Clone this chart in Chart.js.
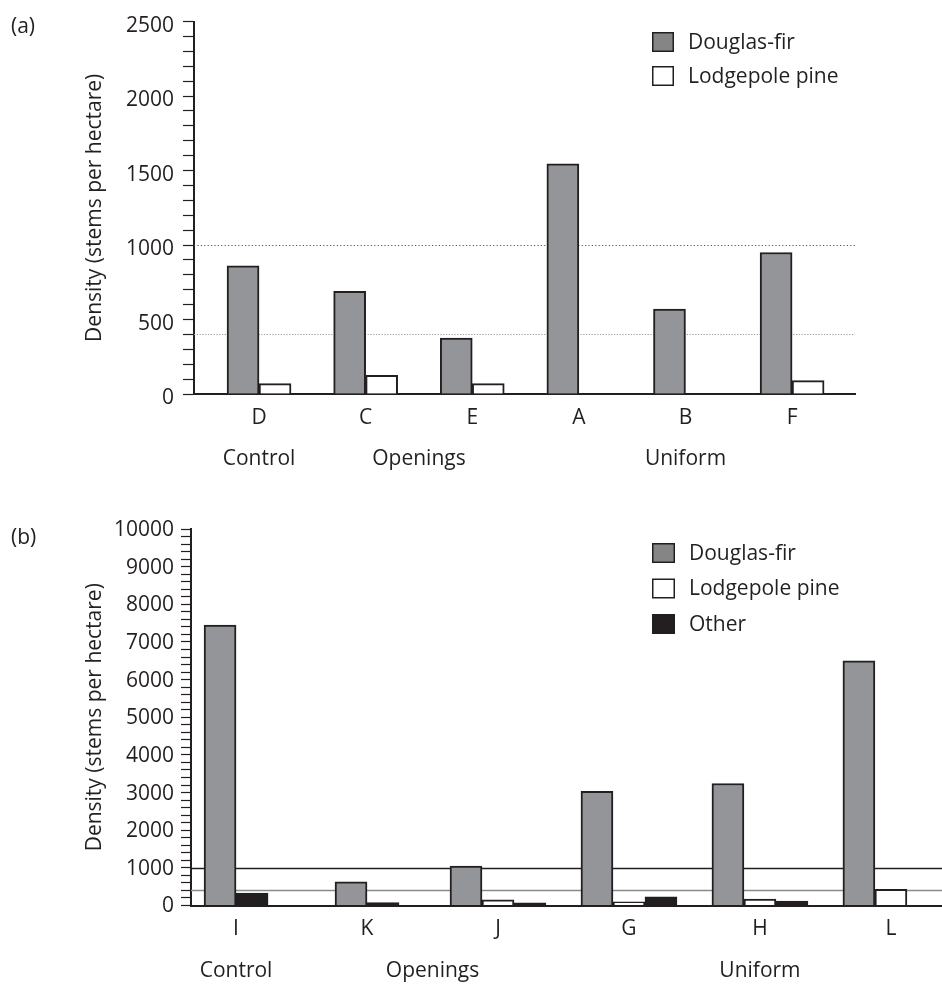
<!DOCTYPE html>
<html>
<head>
<meta charset="utf-8">
<script src="https://cdn.jsdelivr.net/npm/chart.js@4/dist/chart.umd.min.js"></script>
<style>
  html, body { margin: 0; padding: 0; background: #ffffff; }
  body { width: 942px; height: 986px; position: relative; overflow: hidden; }
  .panel { position: absolute; left: 0; width: 942px; }
  #wrapA { top: 0; height: 470px; }
  #wrapB { top: 470px; height: 516px; }
</style>
</head>
<body>
<div class="panel" id="wrapA"><canvas id="chartA" width="942" height="470"></canvas></div>
<div class="panel" id="wrapB"><canvas id="chartB" width="942" height="516"></canvas></div>
<script>
// ---- Panel (a): stem density by site ----
const sitesA = ['D', 'C', 'E', 'A', 'B', 'F'];
const douglasFirA = [860, 690, 375, 1545, 570, 950];
const lodgepoleA = [70, 125, 70, 0, 0, 90];
const yMajorTicksA = [0, 500, 1000, 1500, 2000, 2500];
const yMinorStepA = 100;
const thresholdsA = [1000, 400];
const treatmentSitesA = [['D'], ['C', 'E'], ['A', 'B', 'F']];

// ---- Panel (b): stem density by site ----
const sitesB = ['I', 'K', 'J', 'G', 'H', 'L'];
const douglasFirB = [7450, 630, 1050, 3030, 3240, 6500];
const lodgepoleB = [null, null, 150, 100, 170, 430];
const otherB = [330, 75, 70, 230, 120, 0];
const yMajorTicksB = [0, 1000, 2000, 3000, 4000, 5000, 6000, 7000, 8000, 9000, 10000];
const yMinorStepB = 200;
const thresholdsB = [1000, 400];
const treatmentSitesB = [['I'], ['K', 'J'], ['G', 'H', 'L']];

const treatments = ['Control', 'Openings', 'Uniform'];
const yTitle = 'Density (stems per hectare)';

const INK = '#231f20';
const GREY = '#939598';
const FONT_FAMILY = "'Open Sans', 'Noto Sans', sans-serif";
const FONT_SIZE = 21;

Chart.defaults.font.family = FONT_FAMILY;
Chart.defaults.font.size = FONT_SIZE;
Chart.defaults.color = INK;

const toPoints = (arr) => arr.map((v, i) => ({ x: i, y: v }));

// horizontal reference lines behind the bars
const refLinePlugin = {
  id: 'refLines',
  beforeDatasetsDraw(chart, args, opts) {
    const { ctx, chartArea } = chart;
    const y = chart.scales.y;
    (opts.lines || []).forEach((l) => {
      const py = Math.round(y.getPixelForValue(l.value)) + 0.5;
      ctx.save();
      ctx.strokeStyle = l.color;
      ctx.lineWidth = l.width;
      ctx.setLineDash(l.dash || []);
      ctx.beginPath();
      ctx.moveTo(chartArea.left, py);
      ctx.lineTo(chartArea.right, py);
      ctx.stroke();
      ctx.restore();
    });
  }
};

// square-swatch legend stacked vertically
const boxLegendPlugin = {
  id: 'boxLegend',
  afterDraw(chart, args, opts) {
    const { ctx } = chart;
    ctx.save();
    ctx.font = FONT_SIZE + 'px ' + FONT_FAMILY;
    ctx.textBaseline = 'middle';
    ctx.textAlign = 'left';
    chart.data.datasets.forEach((ds, i) => {
      const cy = opts.top + i * opts.rowGap;
      const x0 = opts.left, y0 = cy - opts.boxH / 2;
      ctx.fillStyle = (opts.swatch && opts.swatch[i]) || ds.backgroundColor;
      ctx.fillRect(x0, y0, opts.boxW, opts.boxH);
      ctx.strokeStyle = INK;
      ctx.lineWidth = 1.5;
      ctx.strokeRect(x0 + 0.75, y0 + 0.75, opts.boxW - 1.5, opts.boxH - 1.5);
      ctx.fillStyle = INK;
      ctx.fillText(ds.label, x0 + opts.boxW + opts.gap, cy + 1);
    });
    ctx.restore();
  }
};

// treatment names under the site letters, plus the panel tag
const treatmentPlugin = {
  id: 'treatments',
  afterDraw(chart, args, opts) {
    const { ctx, chartArea } = chart;
    const x = chart.scales.x;
    ctx.save();
    ctx.font = FONT_SIZE + 'px ' + FONT_FAMILY;
    ctx.fillStyle = INK;
    ctx.textBaseline = 'middle';
    ctx.textAlign = 'center';
    opts.names.forEach((name, i) => {
      const idx = opts.members[i].map((s) => opts.sites.indexOf(s));
      const mid = idx.reduce((a, b) => a + b, 0) / idx.length;
      ctx.fillText(name, x.getPixelForValue(mid), chartArea.bottom + opts.offset);
    });
    ctx.textAlign = 'left';
    ctx.fillText(opts.tag, opts.tagX, opts.tagY);
    ctx.restore();
  }
};

function yScale(max, majors, minorStep, width, tickLen, pad, labelOffset) {
  return {
    type: 'linear',
    min: 0,
    max: max,
    afterBuildTicks: (s) => {
      const t = [];
      for (let v = 0; v <= max; v += minorStep) t.push({ value: v });
      s.ticks = t;
    },
    afterFit: (s) => { s.width = width; },
    ticks: {
      autoSkip: false,
      padding: pad,
      labelOffset: labelOffset,
      callback: (v) => (majors.includes(v) ? String(v) : '')
    },
    grid: {
      display: true,
      drawOnChartArea: false,
      drawTicks: true,
      tickLength: tickLen,
      tickColor: INK,
      tickWidth: 1.2
    },
    border: { display: true, color: INK, width: 2 },
    title: {
      display: true,
      text: yTitle,
      padding: 0,
      font: { size: FONT_SIZE, family: FONT_FAMILY },
      color: INK
    }
  };
}

function xScale(sites, min, max, height, pad) {
  return {
    type: 'linear',
    min: min,
    max: max,
    offset: false,
    z: 1,
    afterBuildTicks: (s) => { s.ticks = sites.map((_, i) => ({ value: i })); },
    afterFit: (s) => { s.height = height; },
    ticks: {
      autoSkip: false,
      padding: pad,
      maxRotation: 0,
      callback: (v) => sites[v] !== undefined ? sites[v] : ''
    },
    grid: { display: false, drawTicks: false, offset: false },
    border: { display: true, color: INK, width: 2 }
  };
}

function barSet(label, values, color) {
  return {
    label: label,
    data: toPoints(values),
    backgroundColor: color,
    borderColor: INK,
    borderWidth: 2,
    barThickness: 32,
    skipNull: true
  };
}

// Panel (a)
new Chart(document.getElementById('chartA'), {
  type: 'bar',
  data: {
    datasets: [
      barSet('Douglas-fir', douglasFirA, GREY),
      barSet('Lodgepole pine', lodgepoleA, '#ffffff')
    ]
  },
  options: {
    responsive: false,
    maintainAspectRatio: false,
    animation: false,
    devicePixelRatio: 1,
    layout: { padding: { left: 82, top: 12, right: 87, bottom: 0 } },
    scales: {
      x: xScale(sitesA, -0.61, 5.59, 76, 11),
      y: yScale(2500, yMajorTicksA, yMinorStepA, 112, 11, 9, 4)
    },
    plugins: {
      legend: { display: false },
      tooltip: { enabled: false },
      refLines: {
        lines: [
          { value: thresholdsA[0], color: '#555555', width: 1.2, dash: [1.2, 2.2] },
          { value: thresholdsA[1], color: '#9a9a9a', width: 1.2, dash: [1.2, 1.6] }
        ]
      },
      boxLegend: { left: 652, top: 42, rowGap: 34, boxW: 22, boxH: 20, gap: 14, swatch: ['#858585'] },
      treatments: {
        names: treatments, members: treatmentSitesA, sites: sitesA, offset: 65,
        tag: '(a)', tagX: 11, tagY: 27
      }
    }
  },
  plugins: [refLinePlugin, boxLegendPlugin, treatmentPlugin]
});

// Panel (b)
new Chart(document.getElementById('chartB'), {
  type: 'bar',
  data: {
    datasets: [
      barSet('Douglas-fir', douglasFirB, GREY),
      barSet('Lodgepole pine', lodgepoleB, '#ffffff'),
      barSet('Other', otherB, INK)
    ]
  },
  options: {
    responsive: false,
    maintainAspectRatio: false,
    animation: false,
    devicePixelRatio: 1,
    layout: { padding: { left: 82, top: 59, right: 0, bottom: 0 } },
    scales: {
      x: xScale(sitesB, -0.344, 5.39, 80.5, 11),
      y: yScale(10000, yMajorTicksB, yMinorStepB, 109, 10, 7, 1)
    },
    plugins: {
      legend: { display: false },
      tooltip: { enabled: false },
      refLines: {
        lines: [
          { value: thresholdsB[0], color: INK, width: 1.3, dash: [] },
          { value: thresholdsB[1], color: '#8a8a8a', width: 1.6, dash: [] }
        ]
      },
      boxLegend: { left: 652, top: 83, rowGap: 35.5, boxW: 23, boxH: 20, gap: 14, swatch: ['#858585'] },
      treatments: {
        names: treatments, members: treatmentSitesB, sites: sitesB, offset: 66,
        tag: '(b)', tagX: 11, tagY: 68
      }
    }
  },
  plugins: [refLinePlugin, boxLegendPlugin, treatmentPlugin]
});
</script>
</body>
</html>
